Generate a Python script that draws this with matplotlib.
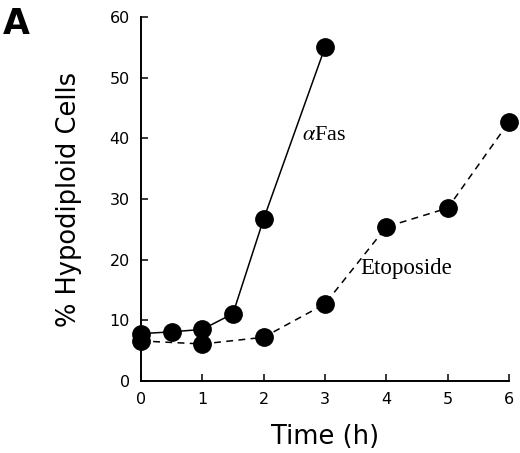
import matplotlib
matplotlib.use("Agg")
import matplotlib.pyplot as plt

plt.rcParams["mathtext.fontset"] = "stix"

# values
fas_time = [0, 0.5, 1, 1.5, 2, 3]
fas_pct = [7.8, 8.1, 8.5, 11.1, 26.7, 55.0]

eto_time = [0, 1, 2, 3, 4, 5, 6]
eto_pct = [6.6, 6.1, 7.2, 12.7, 25.4, 28.5, 42.7]

x_ticks = [0, 1, 2, 3, 4, 5, 6]
y_ticks = [0, 10, 20, 30, 40, 50, 60]

fig = plt.figure(figsize=(5.2, 4.53), dpi=100)
ax = fig.add_axes([0.271, 0.159, 0.708, 0.8035])

ax.plot(fas_time, fas_pct, color="black", lw=1.1, marker="o", ms=12.5,
        mfc="black", mec="black", clip_on=False, zorder=3)
ax.plot(eto_time, eto_pct, color="black", lw=1.1, ls=(0, (4.5, 3.5)),
        marker="o", ms=12.5, mfc="black", mec="black", clip_on=False, zorder=3)

ax.text(2.62, 40.5, r"$\alpha$Fas", fontsize=16, family="Liberation Serif",
        ha="left", va="center")
ax.text(3.57, 18.6, "Etoposide", fontsize=16.5, family="Liberation Serif",
        ha="left", va="center")

ax.set_xlim(0, 6)
ax.set_ylim(0, 60)
ax.set_xticks(x_ticks)
ax.set_yticks(y_ticks)
for s in ("top", "right"):
    ax.spines[s].set_visible(False)
for s in ("left", "bottom"):
    ax.spines[s].set_linewidth(1.4)
ax.tick_params(direction="in", length=5, width=1.1, labelsize=11.5, pad=8)

ax.set_xlabel("Time (h)", fontsize=18.5, labelpad=12)
ax.set_ylabel("% Hypodiploid Cells", fontsize=18.5, labelpad=20)

fig.text(0.005, 0.985, "A", fontsize=25, fontweight="bold", ha="left", va="top")

fig.savefig("out.png", dpi=100)
